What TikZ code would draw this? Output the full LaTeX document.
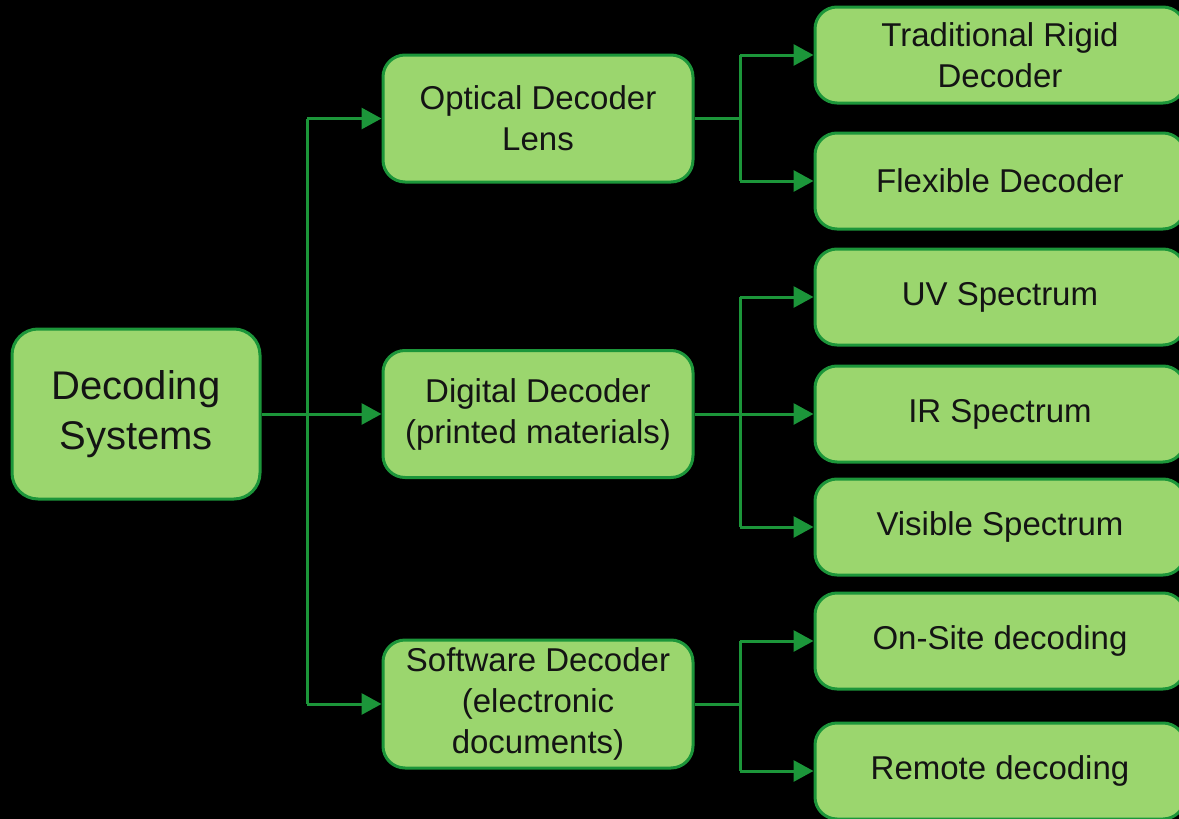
\documentclass[tikz,border=0pt]{standalone}
\usepackage{fontspec}
\setmainfont{Liberation Sans}
\usetikzlibrary{arrows.meta}
\definecolor{boxfill}{RGB}{155,214,110}
\definecolor{boxline}{RGB}{28,150,58}
\definecolor{txt}{RGB}{20,20,20}
\tikzset{
  gbox/.style={draw=boxline, line width=3pt, fill=boxfill, rounded corners=22pt,
    align=center, text=txt, inner sep=0pt, font=\fontsize{33}{41}\selectfont},
  bigbox/.style={gbox, rounded corners=26pt, font=\fontsize{40}{50}\selectfont},
  conn/.style={draw=boxline, line width=3pt},
  arr/.style={conn, -{Triangle[length=20pt,width=21pt]}}
}
\begin{document}
\begin{tikzpicture}[x=1pt,y=-1pt]
\fill[black] (0,0) rectangle (1179,819);
\useasboundingbox (0,0) rectangle (1179,819);
% nodes
\node[bigbox, minimum width=248pt, minimum height=170pt] (ds) at (136,414) {Decoding\\Systems};
\node[gbox, minimum width=310pt, minimum height=127pt] (opt) at (538,118.5) {Optical Decoder\\Lens};
\node[gbox, minimum width=310pt, minimum height=127pt] (dig) at (538,414) {Digital Decoder\\(printed materials)};
\node[gbox, minimum width=310pt, minimum height=128pt] (sw) at (538,704) {Software Decoder\\(electronic\\documents)};
\node[gbox, minimum width=370pt, minimum height=96pt] (trad) at (1000,55) {Traditional Rigid\\Decoder};
\node[gbox, minimum width=370pt, minimum height=96pt] (flex) at (1000,181) {Flexible Decoder};
\node[gbox, minimum width=370pt, minimum height=96pt] (uv) at (1000,297) {UV Spectrum};
\node[gbox, minimum width=370pt, minimum height=96pt] (ir) at (1000,414) {IR Spectrum};
\node[gbox, minimum width=370pt, minimum height=96pt] (vis) at (1000,527) {Visible Spectrum};
\node[gbox, minimum width=370pt, minimum height=96pt] (ons) at (1000,641) {On-Site decoding};
\node[gbox, minimum width=370pt, minimum height=96pt] (rem) at (1000,771) {Remote decoding};
% branch coordinates
\coordinate (t) at (307,0);
\coordinate (b) at (740,0);
% level 1 -> 2
\draw[conn] (opt.west -| t) -- (sw.west -| t);
\draw[arr] (ds.east) -- (dig.west);
\draw[arr] (opt.west -| t) -- (opt.west);
\draw[arr] (sw.west -| t) -- (sw.west);
% optical -> level 3
\draw[conn] (opt.east) -- (opt.east -| b);
\draw[conn] (trad.west -| b) -- (flex.west -| b);
\draw[arr] (trad.west -| b) -- (trad.west);
\draw[arr] (flex.west -| b) -- (flex.west);
% digital -> level 3
\draw[conn] (uv.west -| b) -- (vis.west -| b);
\draw[arr] (dig.east) -- (ir.west);
\draw[arr] (uv.west -| b) -- (uv.west);
\draw[arr] (vis.west -| b) -- (vis.west);
% software -> level 3
\draw[conn] (sw.east) -- (sw.east -| b);
\draw[conn] (ons.west -| b) -- (rem.west -| b);
\draw[arr] (ons.west -| b) -- (ons.west);
\draw[arr] (rem.west -| b) -- (rem.west);
\end{tikzpicture}
\end{document}
